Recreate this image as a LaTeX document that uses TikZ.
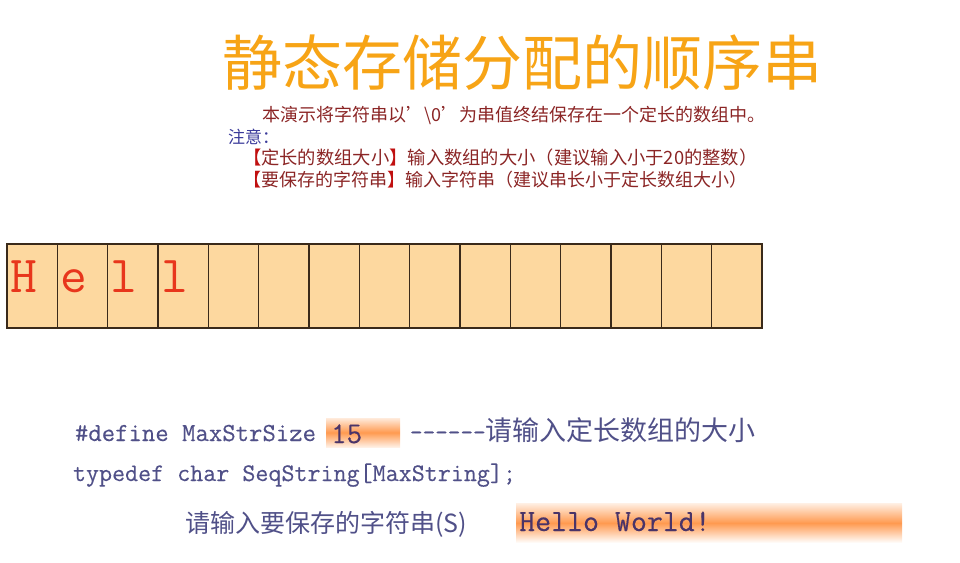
\documentclass[tikz,border=0pt]{standalone}
\usepackage{fontspec}
\newfontfamily\cjk{Noto Sans CJK SC}
\newfontfamily\codett[FakeBold=0.3]{Latin Modern Mono}
\usetikzlibrary{fadings}
\definecolor{titleor}{HTML}{F7A416}
\definecolor{darkred}{HTML}{8B2525}
\definecolor{brk}{HTML}{C01010}
\definecolor{noteblue}{HTML}{3A3A9A}
\definecolor{cellfill}{HTML}{FDD89F}
\definecolor{cellline}{HTML}{3A2A1A}
\definecolor{lettercol}{HTML}{E8361C}
\definecolor{codecol}{HTML}{505088}
\definecolor{hlcol}{HTML}{FF9A50}
\definecolor{valcol}{HTML}{4A3468}
\begin{document}
\begin{tikzpicture}[x=1pt,y=-1pt,
  txt/.style={inner sep=0pt, outer sep=0pt, anchor=west},
  titlestyle/.style={inner sep=0pt, text=titleor, font=\cjk\fontsize{60}{60}\selectfont},
  notestyle/.style={txt, text=darkred, font=\cjk\fontsize{18}{18}\selectfont},
  cell/.style={draw=cellline, line width=1.3pt, fill=cellfill, minimum width=50.333pt, minimum height=84pt, inner sep=0pt, outer sep=0pt},
  letterstyle/.style={inner sep=0pt, anchor=base west, text=lettercol, font=\ttfamily\fontsize{52}{52}\selectfont},
  codestyle/.style={txt, anchor=base west, text=codecol, font=\codett\fontsize{26}{26}\selectfont},
  cjkcode/.style={txt, anchor=base west, text=codecol, font=\cjk\fontsize{26}{26}\selectfont},
  hlbox/.style={inner sep=0pt, outer sep=0pt, top color=hlcol!20, bottom color=hlcol!15, middle color=hlcol},
  valstyle/.style={inner sep=0pt, anchor=base west, text=valcol, font=\codett},
]
\useasboundingbox (0,0) rectangle (960,562);

% title
\node[titlestyle] (title) at (522,63) {静态存储分配的顺序串};

% notes
\node[notestyle] (n1) at (262,115) {本演示将字符串以’\textbackslash0’为串值终结保存在一个定长的数组中。};
\node[notestyle, text=noteblue, font=\cjk\fontsize{17}{17}\selectfont] (n2) at (228,137) {注意：};
\node[notestyle, font=\cjk\fontsize{18.3}{18.3}\selectfont] (n3) at (243,158) {{\color{brk}【}定长的数组大小{\color{brk}】}输入数组的大小（建议输入小于20的整数）};
\node[notestyle, font=\cjk\fontsize{18}{18}\selectfont] (n4) at (243,180) {{\color{brk}【}要保存的字符串{\color{brk}】}输入字符串（建议串长小于定长数组大小）};

% array cells
\foreach \i in {0,...,14} {
  \node[cell] (c\i) at ({7+50.333*\i+25.167},286) {};
}
\node[letterstyle] (l0) at (10,292) {H};
\node[letterstyle] (l1) at (60.3,292) {e};
\node[letterstyle] (l2) at (110.7,292) {l};
\node[letterstyle] (l3) at (161,292) {l};

% code
\node[codestyle] (def) at (75,441) {\#define MaxStrSize};
\node[hlbox, minimum width=74pt, minimum height=29pt] (hl15) at (363,432.5) {};
\node[valstyle, font=\codett\fontsize{30}{30}\selectfont] (v15) at (331,443) {15};
\node[codestyle, font=\codett\fontsize{24.5}{24.5}\selectfont] (dash) at (410,440) {------};
\node[cjkcode, font=\cjk\fontsize{27}{27}\selectfont] (ask1) at (dash.base east) {请输入定长数组的大小};
\node[codestyle, font=\codett\fontsize{25.3}{25.3}\selectfont] (tdef) at (73,481) {typedef char SeqString[MaxString];};
\node[cjkcode, font=\cjk\fontsize{25}{25}\selectfont] (ask2) at (185,532) {请输入要保存的字符串(S)};
\node[hlbox, minimum width=386pt, minimum height=40pt, top color=hlcol!15, bottom color=white, middle color=hlcol] (hlhw) at (709,523) {};
\node[valstyle, font=\codett\fontsize{31}{31}\selectfont] (vhw) at (519,531) {Hello World!};
\end{tikzpicture}
\end{document}
